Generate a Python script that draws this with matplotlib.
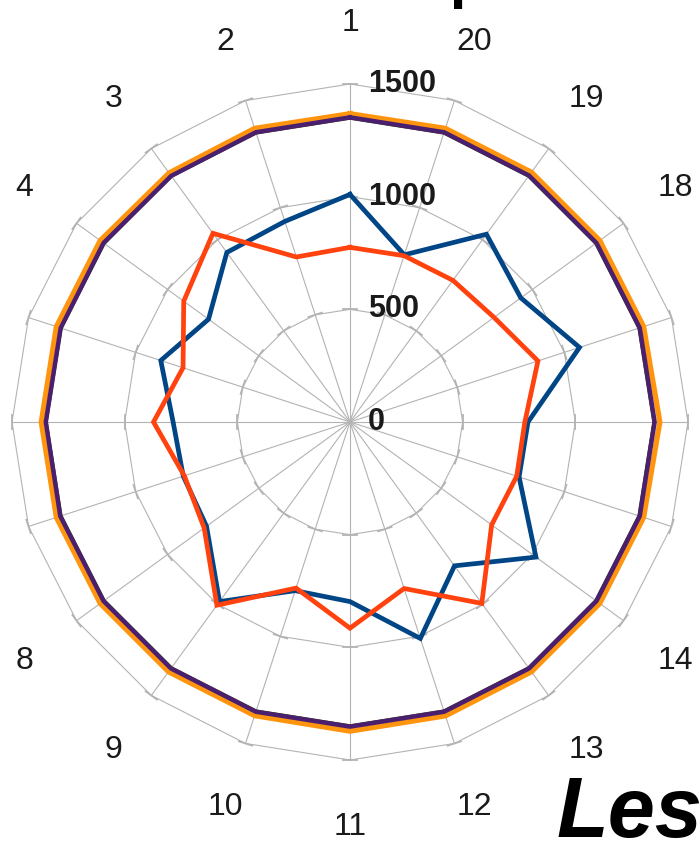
import numpy as np
import matplotlib
matplotlib.use("Agg")
import matplotlib.pyplot as plt

plt.rcParams['font.family'] = ['Liberation Sans', 'DejaVu Sans']

# ---- data ----
categories = [str(i) for i in range(1, 21)]
series_blue = [1010, 936, 930, 776, 883, 785, 778, 787, 985, 787,
               797, 1010, 789, 1020, 789, 790, 1071, 937, 1030, 780]
series_red = [775, 770, 1035, 912, 779, 872, 773, 800, 1005, 775,
              915, 777, 995, 777, 778, 776, 877, 790, 777, 776]
series_green = [1346, 1346, 1346, 1346, 1346, 1346, 1346, 1346, 1346, 1346,
                1346, 1346, 1346, 1346, 1346, 1346, 1346, 1346, 1346, 1346]
series_purple = [1352, 1352, 1350, 1352, 1350, 1350, 1352, 1352, 1352, 1352,
                 1352, 1352, 1352, 1352, 1352, 1352, 1352, 1352, 1352, 1352]
series_orange = [1368, 1370, 1366, 1370, 1370, 1370, 1370, 1370, 1370, 1370,
                 1372, 1371, 1370, 1370, 1370, 1375, 1370, 1370, 1370, 1370]
radial_ticks = [0, 500, 1000, 1500]
radial_max = 1500
label_radius = 1785

grid_color = '#b3b3b3'
text_color = '#1a1a1a'

W, H = 700, 843
fig = plt.figure(figsize=(W / 100, H / 100), dpi=100)
R_px = 338
cx, cy = 350, 422
ax = fig.add_axes([(cx - R_px) / W, (H - cy - R_px) / H, 2 * R_px / W, 2 * R_px / H],
                  projection='polar')
ax.set_theta_zero_location('N')
ax.set_theta_direction(1)
ax.set_ylim(0, radial_max)
ax.set_xticks([])
ax.set_yticks([])
ax.grid(False)
ax.spines['polar'].set_visible(False)
ax.patch.set_visible(False)

n = len(categories)
angles = np.linspace(0, 2 * np.pi, n, endpoint=False)
ang_c = np.append(angles, angles[0])


def closed(v):
    return list(v) + [v[0]]


# grid rings (polygons)
for v in radial_ticks[1:]:
    ax.plot(ang_c, [v] * (n + 1), color=grid_color, lw=0.8, clip_on=False, zorder=1)
# spokes
for a in angles:
    ax.plot([a, a], [0, radial_max], color=grid_color, lw=0.8, clip_on=False, zorder=1)
# small tick marks on rings at spokes
px_per_unit = R_px / radial_max
for v in radial_ticks[1:]:
    d = 7.0 / (v * px_per_unit)
    for a in angles:
        ax.plot([a - d, a + d], [v / np.cos(d), v / np.cos(d)], color=grid_color,
                lw=1.3, clip_on=False, zorder=1)

# series
ax.plot(ang_c, closed(series_blue), color='#004586', lw=3.4, solid_joinstyle='miter',
        clip_on=False, zorder=3)
ax.plot(ang_c, closed(series_red), color='#ff420e', lw=3.4, solid_joinstyle='miter',
        clip_on=False, zorder=4)
ax.plot(ang_c, closed(series_orange), color='#ff950e', lw=3.8, solid_joinstyle='miter',
        clip_on=False, zorder=5)
ax.plot(ang_c, closed(series_green), color='#314004', lw=1.5, solid_joinstyle='miter',
        clip_on=False, zorder=5)
ax.plot(ang_c, closed(series_purple), color='#4b1f6f', lw=3.2, solid_joinstyle='miter',
        clip_on=False, zorder=6)

# radial labels
for v in radial_ticks:
    ax.annotate(str(v), xy=(0, v), xytext=(13, 0), textcoords='offset points',
                ha='left', va='center', fontsize=22, fontweight='bold',
                color=text_color, annotation_clip=False, zorder=10)

# category labels
for a, c in zip(angles, categories):
    ax.annotate(c, xy=(a, label_radius), xytext=(0, -2), textcoords='offset points',
                ha='center', va='center', fontsize=23, color=text_color,
                annotation_clip=False)

# title (mostly outside the visible area) and legend title
fig.text(487 / W, 1 + 3 / H, "Group", ha='right', va='baseline', fontsize=43,
         fontweight='bold', color='black')
fig.text(557 / W, (H - 837) / H, "Les", ha='left', va='baseline', fontsize=61,
         fontweight='bold', style='italic', color='black')

fig.savefig('out.png', dpi=100)
